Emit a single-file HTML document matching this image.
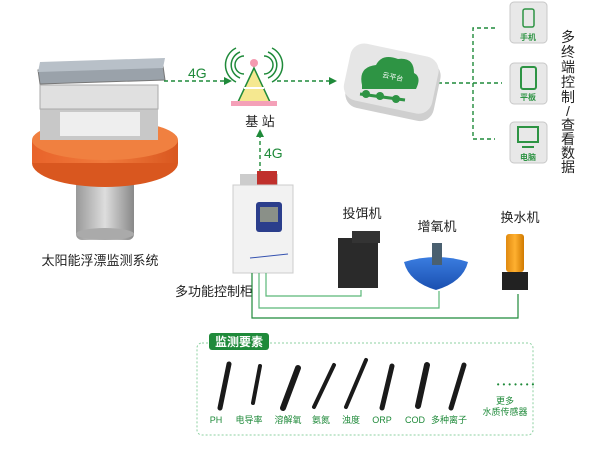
<!DOCTYPE html>
<html><head><meta charset="utf-8"><style>
body{margin:0;background:#fff}
svg{display:block;font-family:"Liberation Sans","Noto Sans CJK SC",sans-serif}
</style></head><body>
<svg width="600" height="452" viewBox="0 0 600 452" xmlns="http://www.w3.org/2000/svg">
<defs>
<linearGradient id="org" x1="0" x2="1"><stop offset="0" stop-color="#e8632a"/><stop offset=".5" stop-color="#f07a3c"/><stop offset="1" stop-color="#d9571f"/></linearGradient>
<linearGradient id="mesh" x1="0" x2="1"><stop offset="0" stop-color="#999"/><stop offset=".5" stop-color="#ddd"/><stop offset="1" stop-color="#888"/></linearGradient>
<linearGradient id="blue" x1="0" y1="0" x2="0" y2="1"><stop offset="0" stop-color="#3b7de0"/><stop offset="1" stop-color="#1a4fb0"/></linearGradient>
<linearGradient id="pump" x1="0" x2="1"><stop offset="0" stop-color="#e08a10"/><stop offset=".5" stop-color="#ffb030"/><stop offset="1" stop-color="#d07a00"/></linearGradient>
</defs>
<!-- buoy -->
<rect x="76" y="180" width="58" height="60" rx="6" fill="url(#mesh)"/>
<ellipse cx="105" cy="234" rx="29" ry="6" fill="#aaa"/>
<ellipse cx="105" cy="163" rx="73" ry="24" fill="#d9571f"/>
<rect x="32" y="140" width="146" height="23" fill="url(#org)"/>
<ellipse cx="105" cy="140" rx="73" ry="20" fill="#f08040"/>
<rect x="40" y="85" width="118" height="55" fill="#c8c8c8"/>
<rect x="40" y="85" width="118" height="24" fill="#e0e0e0" stroke="#aaa"/>
<rect x="60" y="112" width="80" height="24" fill="#eee"/>
<polygon points="38,70 163,66 165,80 40,84" fill="#9aa2aa" stroke="#777"/>
<polygon points="40,62 165,58 163,68 38,72" fill="#b8c0c8"/>
<text x="100" y="265" font-size="13" text-anchor="middle" fill="#222">太阳能浮漂监测系统</text>
<!-- 4G arrows -->
<g stroke="#1f8a3a" stroke-width="1.4" stroke-dasharray="4,3" fill="none">
<line x1="164" y1="81" x2="228" y2="81"/>
<line x1="277" y1="81" x2="332" y2="81"/>
<line x1="260" y1="187" x2="260" y2="134"/>
<line x1="438" y1="83" x2="502" y2="83"/>
<polyline points="495,28 473,28 473,139 495,139"/>
</g>
<polygon points="232,81 224,77 224,85" fill="#1f8a3a"/>
<polygon points="337,81 329,77 329,85" fill="#1f8a3a"/>
<polygon points="260,129 256,137 264,137" fill="#1f8a3a"/>
<text x="188" y="78" font-size="14" fill="#1f8a3a">4G</text>
<text x="264" y="158" font-size="14" fill="#1f8a3a">4G</text>
<!-- tower -->
<g fill="none" stroke="#1f8a3a" stroke-width="1.5">
<path d="M244,56 a9,9 0 0 0 0,18 M240,52 a14,14 0 0 0 0,26 M236,48 a19,19 0 0 0 0,34"/>
<path d="M264,56 a9,9 0 0 1 0,18 M268,52 a14,14 0 0 1 0,26 M272,48 a19,19 0 0 1 0,34"/>
</g>
<circle cx="254" cy="63" r="4" fill="#f49ab0"/>
<polygon points="254,68 238,102 270,102" fill="#f5e890" stroke="#1f8a3a" stroke-width="1.5"/>
<line x1="244" y1="88" x2="264" y2="88" stroke="#fff" stroke-width="2"/>
<rect x="231" y="101" width="46" height="5" fill="#f4a0b8"/>
<text x="260" y="126" font-size="13" text-anchor="middle" fill="#222">基 站</text>
<!-- cloud -->
<rect x="348" y="55" width="90" height="60" rx="14" fill="#cfcfcf" transform="rotate(12 393 85)"/>
<rect x="346" y="50" width="90" height="58" rx="14" fill="#e6e6e6" transform="rotate(12 393 80)"/>
<path d="M362,85 q-4,-18 14,-20 q6,-12 22,-6 q16,-2 16,14 q8,4 2,16 l-54,0 z" fill="#2e9444"/>
<line x1="360" y1="94" x2="405" y2="100" stroke="#2e9444" stroke-width="3"/>
<circle cx="366" cy="94" r="4" fill="#2e9444"/><circle cx="380" cy="96" r="4" fill="#2e9444"/><circle cx="396" cy="99" r="4" fill="#2e9444"/>
<text x="382" y="77" font-size="7" fill="#fff" transform="rotate(12 382 77)">云平台</text>
<!-- devices -->
<g fill="#e8e8e8" stroke="#c8c8c8">
<rect x="510" y="2" width="37" height="41" rx="4"/>
<rect x="510" y="63" width="37" height="41" rx="4"/>
<rect x="510" y="122" width="37" height="41" rx="4"/>
</g>
<rect x="523" y="9" width="11" height="18" rx="2" fill="none" stroke="#2e9444" stroke-width="1.5"/>
<rect x="521" y="67" width="15" height="22" rx="2" fill="none" stroke="#2e9444" stroke-width="2"/>
<rect x="518" y="127" width="20" height="15" fill="none" stroke="#2e9444" stroke-width="2"/>
<line x1="522" y1="147" x2="534" y2="147" stroke="#2e9444" stroke-width="2"/>
<g font-size="8" fill="#2e9444" text-anchor="middle" font-weight="bold">
<text x="528" y="40">手机</text><text x="528" y="100">平板</text><text x="528" y="160">电脑</text></g>
<g font-size="14" fill="#222" text-anchor="middle">
<text x="568" y="42">多</text><text x="568" y="57">终</text><text x="568" y="72">端</text><text x="568" y="87">控</text><text x="568" y="102">制</text><text x="568" y="116">/</text><text x="568" y="130">查</text><text x="568" y="144">看</text><text x="568" y="158">数</text><text x="568" y="172">据</text></g>
<!-- cabinet -->
<rect x="240" y="174" width="38" height="12" fill="#ccc"/>
<rect x="257" y="171" width="20" height="14" fill="#c0302c"/>
<rect x="233" y="185" width="60" height="88" fill="#f2f2f2" stroke="#ccc"/>
<rect x="256" y="202" width="26" height="30" rx="3" fill="#2b3e8c"/>
<rect x="260" y="207" width="18" height="15" fill="#8a9088"/>
<line x1="250" y1="258" x2="288" y2="254" stroke="#3552b0" stroke-width="1"/>
<text x="175" y="296" font-size="13" fill="#222">多功能控制柜</text>
<!-- wires -->
<g fill="none" stroke="#5ab878" stroke-width="1.2">
<polyline points="266,273 266,296 361,296 361,290"/>
<polyline points="259,273 259,308 439,308 439,291"/>
</g>
<polyline points="252,273 252,318 518,318 518,294" fill="none" stroke="#1f8a3a" stroke-width="1.2"/>
<!-- feeder -->
<rect x="338" y="238" width="40" height="50" fill="#2a2a2a"/>
<rect x="352" y="231" width="28" height="12" fill="#333"/>
<text x="362" y="218" font-size="13" text-anchor="middle" fill="#222">投饵机</text>
<!-- aerator -->
<path d="M404,262 q33,-10 64,0 q-5,20 -32,28 q-27,-8 -32,-28z" fill="url(#blue)"/>
<rect x="432" y="243" width="10" height="22" fill="#4a6070"/>
<text x="437" y="231" font-size="13" text-anchor="middle" fill="#222">增氧机</text>
<!-- pump -->
<rect x="506" y="234" width="18" height="38" rx="3" fill="url(#pump)"/>
<path d="M502,272 h26 v18 h-26z" fill="#222"/>
<text x="520" y="222" font-size="13" text-anchor="middle" fill="#222">换水机</text>
<!-- monitoring box -->
<rect x="197" y="343" width="336" height="92" rx="5" fill="none" stroke="#8cd0a0" stroke-width="1" stroke-dasharray="2,2"/>
<rect x="209" y="333" width="60" height="17" rx="3" fill="#1f8a3a"/>
<text x="239" y="346" font-size="12" font-weight="bold" fill="#fff" text-anchor="middle">监测要素</text>
<g stroke="#1a1a1a" stroke-linecap="round">
<line x1="220" y1="408" x2="229" y2="364" stroke-width="5"/>
<line x1="253" y1="403" x2="260" y2="366" stroke-width="4"/>
<line x1="283" y1="408" x2="298" y2="368" stroke-width="6"/>
<line x1="314" y1="407" x2="334" y2="365" stroke-width="4"/>
<line x1="346" y1="407" x2="366" y2="360" stroke-width="4"/>
<line x1="382" y1="408" x2="392" y2="366" stroke-width="5"/>
<line x1="418" y1="406" x2="427" y2="365" stroke-width="6"/>
<line x1="451" y1="408" x2="464" y2="365" stroke-width="5"/>
</g>
<text x="517" y="387" font-size="8" fill="#1f8a3a" text-anchor="middle" letter-spacing="3">•••••••</text>
<g font-size="9" fill="#1f8a3a" text-anchor="middle">
<text x="216" y="423">PH</text><text x="249" y="423">电导率</text><text x="288" y="423">溶解氧</text><text x="321" y="423">氨氮</text><text x="351" y="423">浊度</text><text x="382" y="423">ORP</text><text x="415" y="423">COD</text><text x="449" y="423">多种离子</text>
<text x="505" y="404">更多</text><text x="505" y="415">水质传感器</text></g>
</svg>
</body></html>
